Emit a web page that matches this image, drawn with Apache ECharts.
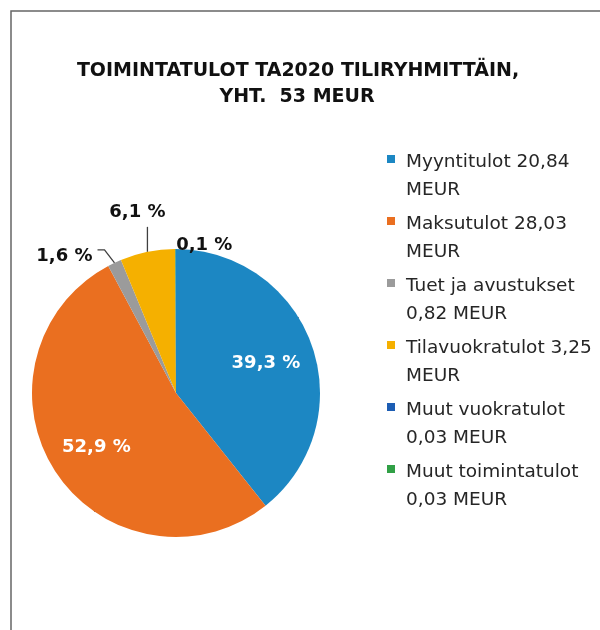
<!DOCTYPE html>
<html><head><meta charset="utf-8">
<script src="https://cdn.jsdelivr.net/npm/echarts@6/dist/echarts.min.js"></script>
<style>html,body{margin:0;padding:0;background:#fff}#c{width:600px;height:630px}</style>
</head><body><div id="c"></div>
<script>
const categories = ['Myyntitulot', 'Maksutulot', 'Tuet ja avustukset', 'Tilavuokratulot', 'Muut vuokratulot', 'Muut toimintatulot'];
// 0.823: shown as "0,82" in the legend but as 1,6 % on the pie, so the true value is a bit above 0.82
const valuesMEUR = [20.84, 28.03, 0.823, 3.25, 0.03, 0.03];
const sliceColors = ['#1C87C3', '#EA6F20', '#9B9B9B', '#F5B000', '#1C5DB3', '#31A046'];
const titleLines = ['TOIMINTATULOT TA2020 TILIRYHMITTÄIN,', 'YHT.  53 MEUR'];
const unit = 'MEUR';

const total = valuesMEUR.reduce((a, b) => a + b, 0);
const fmt = (v, d) => v.toFixed(d).replace('.', ',');
const CX = 176, CY = 393, R = 144;
const FONT = '"DejaVu Sans"';

function legendText(i) {
  const name = categories[i], val = fmt(valuesMEUR[i], 2);
  const first = name + ' ' + val;
  return first.length <= 20 ? first + '\n' + unit : name + '\n' + val + ' ' + unit;
}

const data = categories.map((n, i) => {
  const d = { name: n, value: valuesMEUR[i], itemStyle: { color: sliceColors[i] } };
  if (i < 2) d.label = { show: true, position: 'inside', color: '#fff' };
  else if (i < 5) d.label = { show: true, position: 'outside', color: '#111' };
  else d.label = { show: false };
  if (i === 4) d.labelLine = { show: false };
  return d;
});

const chart = echarts.init(document.getElementById('c'));
chart.setOption({
  animation: false,
  backgroundColor: '#fff',
  graphic: [
    { type: 'rect', shape: { x: 11, y: 11, width: 640, height: 660 }, style: { fill: 'none', stroke: '#666', lineWidth: 1.5 }, silent: true },
    { type: 'text', x: 298, y: 71, style: { text: titleLines[0], fontFamily: FONT, fontWeight: 'bold', fontSize: 19, fill: '#111', textAlign: 'center', textVerticalAlign: 'middle' } },
    { type: 'text', x: 297, y: 97, style: { text: titleLines[1], fontFamily: FONT, fontWeight: 'bold', fontSize: 19, fill: '#111', textAlign: 'center', textVerticalAlign: 'middle' } }
  ],
  legend: {
    orient: 'vertical',
    left: 387,
    top: 148,
    padding: 0,
    itemGap: 6,
    itemWidth: 14,
    itemHeight: 42,
    icon: 'path://M0,0L8,0L8,8L0,8Z M0,42 L14,42',
    itemStyle: { borderWidth: 0 },
    selectedMode: false,
    formatter: name => legendText(categories.indexOf(name)),
    textStyle: { fontFamily: FONT, fontSize: 18.5, color: '#262626', lineHeight: 28 }
  },
  series: [{
    type: 'pie',
    radius: R,
    center: [CX, CY],
    startAngle: 90,
    clockwise: true,
    avoidLabelOverlap: false,
    itemStyle: { borderWidth: 0 },
    label: {
      fontFamily: FONT, fontWeight: 'bold', fontSize: 18,
      formatter: p => fmt(p.value / total * 100, 1) + ' %'
    },
    labelLine: { show: true, lineStyle: { color: '#404040', width: 1.3 }, length: 10, length2: 8 },
    labelLayout: p => {
      const i = p.dataIndex;
      const r = p.labelRect;
      if (i < 2) {
        const lx = r.x + r.width / 2, ly = r.y + r.height / 2;
        return { x: CX + (lx - CX) * 1.27, y: CY + (ly - CY) * 1.27 + 2, align: 'center', verticalAlign: 'middle' };
      }
      const e = p.labelLinePoints ? p.labelLinePoints[0] : [CX, CY - R];
      if (i === 2) {
        return { x: e[0] - 22, y: e[1] - 6, align: 'right', verticalAlign: 'middle',
          labelLinePoints: [e, [e[0] - 10, e[1] - 13], [e[0] - 17, e[1] - 13]] };
      }
      if (i === 3) {
        return { x: e[0] - 10, y: e[1] - 40, align: 'center', verticalAlign: 'middle',
          labelLinePoints: [e, [e[0], e[1] - 25], [e[0], e[1] - 25]] };
      }
      return { x: e[0] + 29, y: e[1] - 4, align: 'center', verticalAlign: 'middle' };
    },
    data: data
  }]
});
</script>
</body></html>
